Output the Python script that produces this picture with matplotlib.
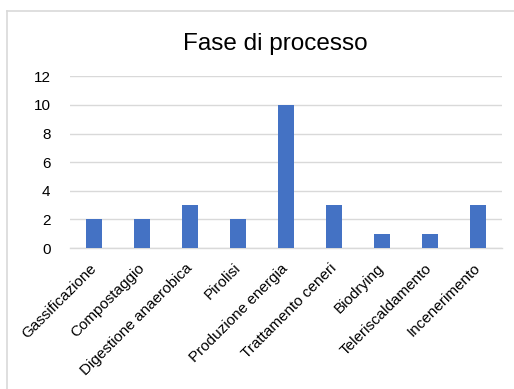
import matplotlib as mpl
import matplotlib.pyplot as plt
from matplotlib.lines import Line2D

mpl.rcParams['font.family'] = ['Liberation Sans', 'DejaVu Sans']

# data
categories = ['Gassificazione', 'Compostaggio', 'Digestione anaerobica', 'Pirolisi',
              'Produzione energia', 'Trattamento ceneri', 'Biodrying',
              'Teleriscaldamento', 'Incenerimento']
values = [2, 2, 3, 2, 10, 3, 1, 1, 3]
yticks = [0, 2, 4, 6, 8, 10, 12]

W, H = 514, 389
fig = plt.figure(figsize=(W / 100, H / 100), dpi=100)
fig.patch.set_facecolor('white')

# chart border (left and top edges visible)
fig.add_artist(Line2D([7 / W, 7 / W], [0, 1 - 10.5 / H], color='#d9d9d9', lw=1.2))
fig.add_artist(Line2D([7 / W, 1], [1 - 10.5 / H, 1 - 10.5 / H], color='#d9d9d9', lw=1.2))

ax = fig.add_axes([70 / W, 1 - 248 / H, 432 / W, (248 - 76.4) / H])
x = range(len(categories))
ax.bar(x, values, width=0.33, color='#4472C4', zorder=3)

ax.set_xlim(-0.5, len(categories) - 0.5)
ax.set_ylim(0, 12)
ax.set_yticks(yticks)
ax.set_yticklabels([str(v) for v in yticks], fontsize=11)
ax.set_xticks(list(x))
ax.set_xticklabels(categories, rotation=45, ha='right', va='center',
                   rotation_mode='anchor', fontsize=11)

ax.grid(axis='y', color='#d9d9d9', linewidth=1, zorder=0)
ax.tick_params(axis='both', length=0)
ax.tick_params(axis='y', pad=14)
ax.tick_params(axis='x', pad=13)
for s in ['top', 'right', 'left']:
    ax.spines[s].set_visible(False)
ax.spines['bottom'].set_color('#d9d9d9')
ax.spines['bottom'].set_linewidth(1)

fig.text(275 / W, 1 - 44 / H, 'Fase di processo', ha='center', va='center', fontsize=17.5)

fig.savefig('out.png', dpi=100)
